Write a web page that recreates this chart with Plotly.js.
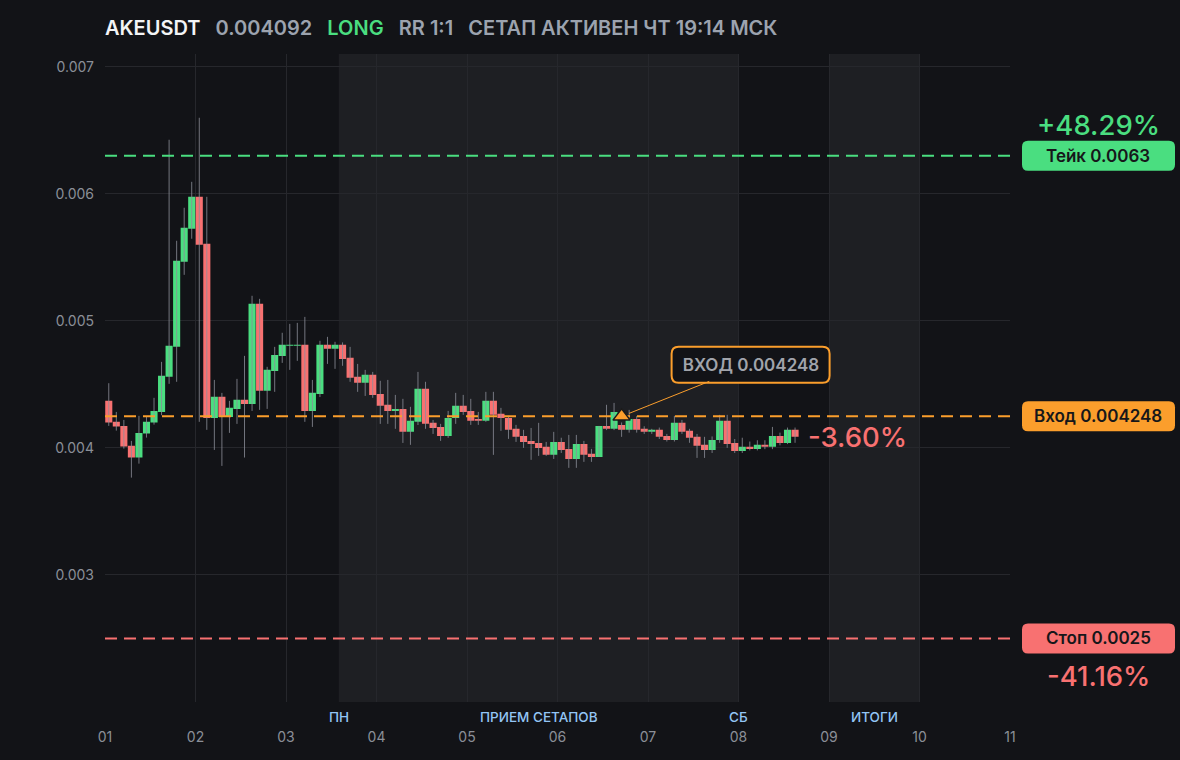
<!DOCTYPE html>
<html>
<head>
<meta charset="utf-8">
<script src="https://cdn.plot.ly/plotly-3.0.1.min.js"></script>
<style>
html,body{margin:0;padding:0;background:#121317;}
#chart{width:1180px;height:760px;}
</style>
</head>
<body>
<div id="chart"></div>
<script>
// ---------- data ----------
const symbol = 'AKEUSDT';
const lastPrice = '0.004092';
const side = 'LONG';
const rrText = 'RR 1:1';
const statusText = 'СЕТАП АКТИВЕН ЧТ 19:14 МСК';

const startDay = 1;
const candlesPerDay = 12;

const openP = [
0.004370,0.004205,0.004173,0.004016,0.003924,0.004113,0.004199,0.004283,0.004559,0.004795,
0.005465,0.005724,0.005976,0.005606,0.004236,0.004402,0.004244,0.004307,0.004378,0.004346,
0.005134,0.004449,0.004606,0.004724,0.004803,0.004803,0.004811,0.004291,0.004425,0.004811,
0.004780,0.004811,0.004709,0.004559,0.004512,0.004575,0.004425,0.004339,0.004291,0.004307,
0.004126,0.004205,0.004465,0.004197,0.004165,0.004094,0.004236,0.004331,0.004291,0.004228,
0.004213,0.004370,0.004268,0.004236,0.004150,0.004094,0.004055,0.004039,0.004008,0.003945,
0.004047,0.003992,0.003913,0.004031,0.003953,0.003929,0.004173,0.004150,0.004181,0.004142,
0.004228,0.004150,0.004126,0.004142,0.004094,0.004063,0.004197,0.004134,0.004087,0.004024,
0.003984,0.004063,0.004213,0.004039,0.003976,0.004008,0.003992,0.004024,0.004008,0.004094,
0.004039,0.004142];
const highP = [
0.004509,0.004283,0.004220,0.004055,0.004252,0.004250,0.004394,0.004677,0.006425,0.005630,
0.005890,0.006094,0.006598,0.005976,0.004535,0.004433,0.004370,0.004543,0.004724,0.005197,
0.005173,0.004638,0.004795,0.004906,0.004976,0.004984,0.005031,0.004535,0.004843,0.004874,
0.004835,0.004830,0.004795,0.004661,0.004614,0.004598,0.004528,0.004535,0.004417,0.004386,
0.004323,0.004598,0.004520,0.004220,0.004189,0.004291,0.004433,0.004417,0.004386,0.004283,
0.004441,0.004441,0.004315,0.004252,0.004181,0.004142,0.004157,0.004197,0.004047,0.004126,
0.004080,0.004102,0.004102,0.004055,0.003992,0.004173,0.004339,0.004354,0.004200,0.004299,
0.004250,0.004170,0.004150,0.004160,0.004110,0.004252,0.004220,0.004150,0.004110,0.004087,
0.004090,0.004260,0.004260,0.004070,0.004080,0.004050,0.004060,0.004060,0.004165,0.004120,
0.004160,0.004160];
const lowP = [
0.004173,0.004136,0.003994,0.003766,0.003876,0.004081,0.004183,0.004257,0.004504,0.004520,
0.005362,0.005646,0.004205,0.004142,0.003984,0.003858,0.004118,0.004189,0.003924,0.004291,
0.004299,0.004307,0.004441,0.004669,0.004614,0.004685,0.004205,0.004165,0.004400,0.004661,
0.004622,0.004646,0.004520,0.004441,0.004409,0.004394,0.004189,0.004189,0.004150,0.004039,
0.004024,0.004180,0.004150,0.004110,0.004055,0.004079,0.004189,0.004260,0.004181,0.004181,
0.004205,0.003945,0.004134,0.004071,0.004047,0.004000,0.003906,0.003937,0.003937,0.003913,
0.003960,0.003843,0.003843,0.003890,0.003890,0.003929,0.004140,0.004140,0.004087,0.004120,
0.004120,0.004110,0.004110,0.004070,0.004050,0.004050,0.004110,0.004040,0.003921,0.003921,
0.003960,0.004040,0.004000,0.003960,0.003960,0.003980,0.003980,0.003990,0.003990,0.004020,
0.004030,0.004040];
const closeP = [
0.004199,0.004168,0.004010,0.003924,0.004118,0.004205,0.004291,0.004567,0.004803,0.005472,
0.005732,0.005976,0.005598,0.004236,0.004402,0.004244,0.004315,0.004378,0.004346,0.005134,
0.004449,0.004614,0.004732,0.004811,0.004811,0.004811,0.004291,0.004433,0.004811,0.004780,
0.004811,0.004700,0.004551,0.004512,0.004575,0.004417,0.004331,0.004291,0.004307,0.004126,
0.004213,0.004465,0.004189,0.004157,0.004094,0.004236,0.004331,0.004283,0.004213,0.004213,
0.004370,0.004260,0.004236,0.004142,0.004087,0.004047,0.004031,0.004000,0.003945,0.004047,
0.003984,0.003913,0.004031,0.003945,0.003929,0.004173,0.004150,0.004283,0.004142,0.004228,
0.004142,0.004126,0.004142,0.004087,0.004063,0.004197,0.004126,0.004079,0.004016,0.003984,
0.004063,0.004213,0.004031,0.003976,0.004008,0.003992,0.004024,0.004008,0.004094,0.004039,
0.004142,0.004087];

const dayTicks = [1,2,3,4,5,6,7,8,9,10,11];
const dayLabels = ['01','02','03','04','05','06','07','08','09','10','11'];
const priceTicks = [0.003, 0.004, 0.005, 0.006, 0.007];
const priceLabels = ['0.003', '0.004', '0.005', '0.006', '0.007'];

const takePrice = 0.0063;
const entryPrice = 0.004248;
const stopPrice = 0.0025;
const takeLabel = 'Тейк 0.0063';
const entryLabel = 'Вход 0.004248';
const stopLabel = 'Стоп 0.0025';
const takePct = '+48.29%';
const stopPct = '-41.16%';
const currentPct = '-3.60%';
const entryCallout = 'ВХОД 0.004248';
const entryIndex = 68;

const sessionBands = [[3.5833, 8], [9, 10]];
const sessionLabels = [
  {x: 3.5833, text: 'ПН'},
  {x: 5.79, text: 'ПРИЕМ СЕТАПОВ'},
  {x: 8, text: 'СБ'},
  {x: 9.5, text: 'ИТОГИ'}
];

// ---------- styling ----------
const BG = '#121317';
const BAND = '#1e1f23';
const GRID = '#26272c';
const GREEN = '#4ade80';
const RED = '#f87171';
const ORANGE = '#fb9e2c';
const GRAY = '#9ca3af';
const TICK = '#8b8f97';
const FONT = 'Inter, "Noto Sans", sans-serif';

const xs = openP.map((_, i) => startDay + (i + 0.5) / candlesPerDay);
const xRange = [dayTicks[0], dayTicks[dayTicks.length - 1]];

function roundRect(x0, y0, x1, y1, r) {
  return `M ${x0 + r} ${y0} L ${x1 - r} ${y0} Q ${x1} ${y0} ${x1} ${y0 + r} ` +
         `L ${x1} ${y1 - r} Q ${x1} ${y1} ${x1 - r} ${y1} L ${x0 + r} ${y1} ` +
         `Q ${x0} ${y1} ${x0} ${y1 - r} L ${x0} ${y0 + r} Q ${x0} ${y0} ${x0 + r} ${y0} Z`;
}

const traces = [
  {
    type: 'ohlc', x: xs, open: openP, high: highP, low: lowP, close: closeP,
    tickwidth: 0,
    increasing: {line: {color: 'rgba(140,143,152,0.8)', width: 1}},
    decreasing: {line: {color: 'rgba(140,143,152,0.8)', width: 1}},
    hoverinfo: 'skip', showlegend: false
  },
  {
    type: 'candlestick', x: xs, open: openP, high: highP, low: lowP, close: closeP,
    whiskerwidth: 0,
    increasing: {fillcolor: GREEN, line: {color: 'rgba(0,0,0,0)', width: 0}},
    decreasing: {fillcolor: RED, line: {color: 'rgba(0,0,0,0)', width: 0}},
    hoverinfo: 'skip', showlegend: false
  }
];

const levels = [[takePrice, GREEN], [entryPrice, ORANGE], [stopPrice, RED]];
levels.forEach(([p, c]) => {
  traces.push({
    type: 'scatter', mode: 'lines', x: xRange, y: [p, p],
    line: {color: c, width: 2, dash: '12px,7px'},
    hoverinfo: 'skip', showlegend: false
  });
});

traces.push({
  type: 'scatter', mode: 'markers', x: [xs[entryIndex]], y: [entryPrice],
  marker: {symbol: 'triangle-up', size: 15, color: ORANGE, line: {color: '#1a1a1a', width: 1.5}},
  hoverinfo: 'skip', showlegend: false
});

const shapes = [];
sessionBands.forEach(([a, b]) => {
  shapes.push({type: 'rect', xref: 'x', yref: 'paper', x0: a, x1: b, y0: 0, y1: 1,
    fillcolor: BAND, line: {width: 0}, layer: 'below'});
});
levels.forEach(([p, c]) => {
  shapes.push({type: 'path', xref: 'paper', yref: 'y', xsizemode: 'pixel', ysizemode: 'pixel',
    xanchor: 1, yanchor: p, path: roundRect(12, -15, 165, 15, 6),
    fillcolor: c, line: {width: 0}, layer: 'above'});
});
shapes.push({type: 'path', xref: 'x', yref: 'y', xsizemode: 'pixel', ysizemode: 'pixel',
  xanchor: xs[entryIndex], yanchor: entryPrice, path: roundRect(50, 33.5, 208, 69.5, 7),
  fillcolor: BG, line: {color: ORANGE, width: 2}, layer: 'above'});

const annotations = [];
[[takePrice, takeLabel], [entryPrice, entryLabel], [stopPrice, stopLabel]].forEach(([p, t]) => {
  annotations.push({xref: 'paper', yref: 'y', x: 1, y: p, xshift: 88, xanchor: 'center', yanchor: 'middle',
    text: t, showarrow: false, font: {family: FONT, size: 17, color: '#16171a', weight: 600}});
});
annotations.push({xref: 'paper', yref: 'y', x: 1, y: takePrice, xshift: 88, yshift: 31,
  xanchor: 'center', yanchor: 'middle', text: takePct, showarrow: false,
  font: {family: FONT, size: 27.5, color: GREEN, weight: 500}});
annotations.push({xref: 'paper', yref: 'y', x: 1, y: stopPrice, xshift: 88, yshift: -38,
  xanchor: 'center', yanchor: 'middle', text: stopPct, showarrow: false,
  font: {family: FONT, size: 27.5, color: RED, weight: 500}});
annotations.push({xref: 'x', yref: 'y', x: xs[xs.length - 1], y: closeP[closeP.length - 1],
  xshift: 11, xanchor: 'left', yanchor: 'middle', text: currentPct, showarrow: false,
  font: {family: FONT, size: 27.5, color: RED, weight: 500}});
annotations.push({xref: 'x', yref: 'y', x: xs[entryIndex], y: entryPrice,
  ax: 129, ay: -51.5, text: entryCallout, showarrow: true, arrowhead: 0, arrowwidth: 1,
  arrowcolor: ORANGE, standoff: 8, width: 154, height: 32, borderpad: 0,
  font: {family: FONT, size: 17, color: '#a1a4ab', weight: 600}});
sessionLabels.forEach(l => {
  annotations.push({xref: 'x', yref: 'paper', x: l.x, y: 0, yshift: -15, xanchor: 'center',
    yanchor: 'middle', text: l.text, showarrow: false,
    font: {family: FONT, size: 13.5, color: '#93c5f5', weight: 500}});
});

const sp = '&nbsp;&nbsp;&nbsp;';
const titleText = `<span style="color:#f3f4f6">${symbol}</span>${sp}` +
  `<span style="color:${GRAY}">${lastPrice}</span>${sp}` +
  `<span style="color:${GREEN}">${side}</span>${sp}` +
  `<span style="color:${GRAY}">${rrText}</span>${sp}` +
  `<span style="color:${GRAY}">${statusText}</span>`;

const layout = {
  width: 1180, height: 760,
  paper_bgcolor: BG, plot_bgcolor: BG,
  margin: {l: 105, r: 170, t: 54, b: 58},
  boxgap: 0.06, boxgroupgap: 0,
  showlegend: false,
  title: {text: titleText, xref: 'paper', x: 0, xanchor: 'left', yref: 'container', y: 1 - 28/760,
    yanchor: 'middle', font: {family: FONT, size: 20, color: GRAY, weight: 600}},
  xaxis: {
    range: xRange, tickvals: dayTicks, ticktext: dayLabels,
    showgrid: true, gridcolor: GRID, gridwidth: 1, zeroline: false, showline: false,
    ticks: '', ticklabelstandoff: 25, rangeslider: {visible: false},
    tickfont: {family: FONT, size: 14, color: TICK}, fixedrange: true
  },
  yaxis: {
    range: [0.002, 0.0071], tickvals: priceTicks, ticktext: priceLabels,
    showgrid: true, gridcolor: GRID, gridwidth: 1, zeroline: false, showline: false,
    ticks: '', ticklabelstandoff: 10,
    tickfont: {family: FONT, size: 14, color: TICK}, fixedrange: true
  },
  shapes: shapes,
  annotations: annotations
};

Plotly.newPlot('chart', traces, layout, {displayModeBar: false, staticPlot: true});
</script>
</body>
</html>
